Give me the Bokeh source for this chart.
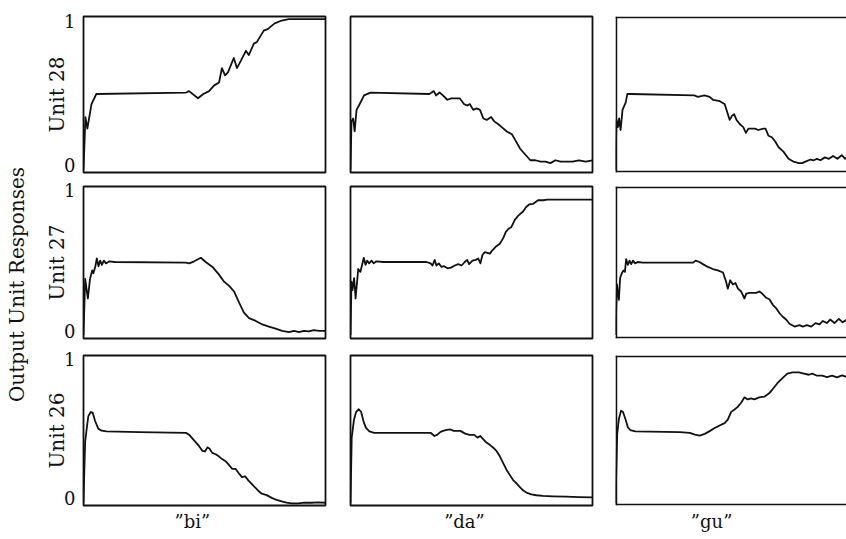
import math
from bokeh.plotting import figure
from bokeh.layouts import row, column
from bokeh.models import FixedTicker, Label, Span, Range1d
from bokeh.embed import file_html
from bokeh.resources import INLINE

# ---------------- data (time in % of syllable, response 0..1) ----------------
words = ["\u201dbi\u201d", "\u201dda\u201d", "\u201dgu\u201d"]
units = ["Unit 28", "Unit 27", "Unit 26"]
y_ticks = [0, 1]
y_label = "Output Unit Responses"

bi_u28 = [(0, -0.04), (0.8, 0.33), (1.6, 0.25), (3.3, 0.42), (5.3, 0.49), (42.4, 0.50), (43.6, 0.51),
          (47.3, 0.46), (49.5, 0.49), (51.9, 0.51), (54.0, 0.55), (56.0, 0.57), (57.2, 0.67), (58.5, 0.62),
          (59.7, 0.64), (62.1, 0.74), (63.4, 0.67), (65.0, 0.72), (67.1, 0.79), (68.3, 0.76), (70.4, 0.84),
          (71.6, 0.85), (74.5, 0.93), (76.1, 0.94), (79.0, 0.98), (81.9, 1.00), (84.8, 1.01), (100, 1.01)]

da_u28 = [(0, -0.04), (0.4, 0.30), (1.1, 0.32), (1.7, 0.23), (2.5, 0.38), (3.5, 0.41), (5.6, 0.48), (8.3, 0.50),
          (32.6, 0.49), (34.4, 0.51), (35.4, 0.48), (36.8, 0.50), (38.2, 0.48), (40.0, 0.45), (41.7, 0.46),
          (43.8, 0.46), (45.1, 0.46), (46.9, 0.42), (48.3, 0.41), (49.3, 0.42), (50.7, 0.38), (52.1, 0.39),
          (53.5, 0.38), (54.9, 0.32), (56.3, 0.31), (58.1, 0.33), (59.4, 0.30), (61.1, 0.28), (62.5, 0.26),
          (64.6, 0.23), (66.7, 0.21), (68.1, 0.17), (70.1, 0.11), (72.2, 0.07), (74.3, 0.03), (76.4, 0.03),
          (78.5, 0.02), (80.6, 0.02), (82.6, 0.01), (84.7, 0.03), (86.8, 0.02), (88.9, 0.02), (91.7, 0.02),
          (94.4, 0.03), (97.2, 0.02), (100, 0.03)]

gu_u28 = [(0, -0.04), (0.4, 0.31), (1.0, 0.26), (1.5, 0.32), (2.1, 0.24), (2.9, 0.38), (4.2, 0.43), (4.9, 0.49),
          (6.3, 0.49), (32.6, 0.48), (34.0, 0.47), (36.8, 0.48), (38.9, 0.47), (40.3, 0.45), (43.1, 0.44),
          (45.1, 0.42), (47.2, 0.31), (48.2, 0.34), (49.0, 0.35), (50.0, 0.31), (51.4, 0.28), (52.8, 0.26),
          (53.9, 0.22), (54.9, 0.25), (57.6, 0.25), (59.0, 0.24), (61.1, 0.25), (62.0, 0.25), (63.2, 0.20),
          (64.6, 0.19), (66.0, 0.16), (67.4, 0.12), (69.4, 0.09), (71.5, 0.04), (73.6, 0.02), (75.7, 0.01),
          (77.1, 0.01), (78.5, 0.02), (80.6, 0.035), (81.9, 0.03), (83.3, 0.04), (84.7, 0.03), (86.5, 0.05),
          (88.2, 0.04), (89.9, 0.06), (91.7, 0.04), (93.5, 0.065), (94.9, 0.04), (96.3, 0.06), (98.2, 0.045),
          (100, 0.065)]

bi_u27 = [(0, -0.03), (0.7, 0.37), (1.8, 0.23), (2.7, 0.37), (3.6, 0.43), (4.1, 0.41), (4.9, 0.46), (5.5, 0.515),
          (6.2, 0.46), (6.9, 0.50), (7.6, 0.47), (8.4, 0.50), (9.3, 0.48), (10.7, 0.495), (12.8, 0.49),
          (42.3, 0.485), (43.7, 0.48), (45.7, 0.495), (48.5, 0.52), (50.5, 0.49), (53.3, 0.455), (56.0, 0.40),
          (58.1, 0.35), (60.2, 0.32), (62.2, 0.28), (64.3, 0.20), (66.3, 0.13), (68.4, 0.09), (71.2, 0.07),
          (73.9, 0.045), (76.6, 0.03), (79.4, 0.015), (82.1, 0.0), (84.9, -0.01), (87.0, 0.0), (89.0, -0.01),
          (91.1, 0.0), (93.1, -0.005), (95.2, 0.005), (97.3, 0.0), (100, 0.0)]

da_u27 = [(0, -0.03), (0.4, 0.35), (0.8, 0.29), (1.5, 0.375), (2.1, 0.23), (3.2, 0.44), (4.1, 0.42), (4.8, 0.47),
          (5.5, 0.52), (6.2, 0.47), (6.9, 0.50), (7.7, 0.48), (8.7, 0.50), (9.6, 0.48), (10.7, 0.495),
          (13.5, 0.49), (31.4, 0.49), (33.1, 0.48), (33.9, 0.465), (34.8, 0.505), (35.5, 0.465), (36.5, 0.48),
          (37.6, 0.455), (38.7, 0.46), (40.1, 0.445), (41.5, 0.45), (43.1, 0.465), (44.5, 0.475), (45.9, 0.465),
          (47.2, 0.49), (48.2, 0.505), (49.0, 0.475), (50.4, 0.50), (51.8, 0.505), (52.8, 0.515), (53.7, 0.48),
          (54.5, 0.54), (55.5, 0.56), (57.6, 0.55), (58.7, 0.575), (60.1, 0.60), (61.7, 0.62), (63.1, 0.66),
          (64.2, 0.705), (65.2, 0.725), (66.5, 0.74), (67.9, 0.79), (69.3, 0.82), (71.3, 0.85), (72.5, 0.88),
          (73.8, 0.90), (75.5, 0.905), (77.5, 0.93), (79.6, 0.93), (81.3, 0.935), (83.1, 0.935), (100, 0.935)]

gu_u27 = [(0, -0.03), (0.6, 0.33), (1.0, 0.27), (1.4, 0.22), (1.9, 0.375), (2.6, 0.41), (3.3, 0.43), (3.9, 0.42),
          (4.4, 0.51), (5.1, 0.47), (5.8, 0.50), (6.5, 0.475), (7.2, 0.50), (8.1, 0.48), (9.2, 0.49),
          (11.3, 0.485), (32.0, 0.485), (33.1, 0.50), (34.7, 0.49), (36.1, 0.475), (38.2, 0.455), (40.2, 0.44),
          (42.3, 0.43), (44.4, 0.415), (45.7, 0.35), (46.4, 0.30), (47.4, 0.36), (48.5, 0.33), (49.6, 0.34),
          (50.6, 0.30), (51.9, 0.28), (53.3, 0.23), (54.0, 0.265), (55.4, 0.27), (58.1, 0.27), (59.5, 0.28),
          (60.6, 0.265), (62.3, 0.235), (63.6, 0.225), (65.0, 0.185), (66.4, 0.16), (67.8, 0.125), (69.1, 0.10),
          (70.5, 0.08), (71.9, 0.05), (74.0, 0.03), (76.0, 0.04), (77.4, 0.03), (79.1, 0.04), (80.9, 0.03),
          (82.6, 0.055), (84.3, 0.045), (85.7, 0.07), (87.3, 0.055), (88.7, 0.08), (90.5, 0.055), (92.3, 0.085),
          (93.9, 0.06), (95.6, 0.08), (97.0, 0.05), (98.8, 0.075), (100, 0.06)]

bi_u26 = [(0, -0.04), (0.3, 0.17), (0.7, 0.41), (1.4, 0.51), (2.0, 0.59), (3.0, 0.62), (3.8, 0.615), (4.8, 0.555),
          (6.1, 0.50), (7.5, 0.485), (9.5, 0.48), (23.2, 0.475), (42.3, 0.47), (43.7, 0.455), (45.7, 0.415),
          (47.7, 0.375), (49.1, 0.34), (50.2, 0.335), (51.2, 0.365), (52.1, 0.355), (53.2, 0.325), (54.6, 0.315),
          (55.9, 0.30), (57.3, 0.28), (58.7, 0.265), (60.0, 0.24), (61.4, 0.21), (62.8, 0.21), (64.1, 0.18),
          (65.5, 0.15), (66.8, 0.155), (68.2, 0.125), (69.6, 0.10), (70.9, 0.075), (72.3, 0.05), (73.7, 0.03),
          (75.7, 0.02), (77.8, 0.0), (79.8, -0.015), (81.9, -0.025), (83.9, -0.035), (85.9, -0.04), (88.7, -0.04),
          (91.4, -0.035), (94.1, -0.035), (96.9, -0.033), (100, -0.035)]

da_u26 = [(0, -0.04), (0.5, 0.435), (1.4, 0.56), (2.3, 0.62), (3.4, 0.64), (4.4, 0.62), (5.5, 0.545), (6.4, 0.505),
          (7.8, 0.48), (9.8, 0.47), (33.1, 0.47), (34.7, 0.447), (35.8, 0.455), (37.2, 0.477), (39.2, 0.489),
          (41.3, 0.494), (42.6, 0.484), (45.4, 0.484), (47.4, 0.464), (49.2, 0.455), (51.1, 0.455), (52.5, 0.435),
          (53.6, 0.447), (54.9, 0.423), (56.3, 0.398), (57.7, 0.381), (59.0, 0.362), (60.4, 0.337), (61.7, 0.30),
          (63.1, 0.251), (64.5, 0.202), (65.8, 0.166), (67.2, 0.129), (68.6, 0.104), (69.9, 0.08), (71.3, 0.055),
          (72.7, 0.038), (74.7, 0.026), (76.8, 0.019), (79.5, 0.014), (83.6, 0.011), (89.1, 0.009), (94.5, 0.006),
          (100, 0.004)]

gu_u26 = [(0, -0.04), (0.7, 0.46), (1.4, 0.57), (2.3, 0.63), (3.1, 0.62), (4.1, 0.57), (5.1, 0.51), (6.1, 0.49),
          (8.2, 0.48), (26.6, 0.475), (30.7, 0.47), (32.8, 0.457), (34.8, 0.45), (36.9, 0.462), (38.9, 0.482),
          (41.0, 0.504), (43.0, 0.523), (45.1, 0.54), (46.4, 0.565), (47.8, 0.621), (49.2, 0.638), (50.5, 0.657),
          (51.9, 0.687), (53.3, 0.726), (54.6, 0.711), (56.0, 0.718), (57.4, 0.711), (59.4, 0.726), (61.5, 0.731),
          (63.5, 0.755), (64.9, 0.784), (66.9, 0.828), (69.0, 0.865), (71.0, 0.897), (73.1, 0.906), (75.8, 0.906),
          (77.9, 0.897), (79.9, 0.889), (81.3, 0.897), (83.3, 0.882), (85.4, 0.882), (87.4, 0.872), (89.5, 0.882),
          (91.5, 0.870), (93.6, 0.884), (95.6, 0.872), (97.4, 0.882), (100, 0.877)]

grid = [[bi_u28, da_u28, gu_u28],
        [bi_u27, da_u27, gu_u27],
        [bi_u26, da_u26, gu_u26]]

# ---------------- layout ----------------
FONT = "DejaVu Serif"
INK = "#111111"
LW = 1.8
Y0, Y1 = -0.055, 1.028
# (border_left, frame_width, border_right, x_end)
col_specs = [(53, 242, 12, 100.0), (13, 242, 12, 100.0), (11, 231, 0, 100.0 * 231 / 242)]
# (border_top, frame_height, border_bottom)
row_specs = [(16, 156, 7), (7, 152, 8), (9, 150, 34)]
word_pos = [45.0, 47.1, 39.7]

rows = []
for r, (bt, fh, bb) in enumerate(row_specs):
    figs = []
    for c, (bl, fw, br, xend) in enumerate(col_specs):
        p = figure(width=bl + fw + br, height=bt + fh + bb,
                   x_range=Range1d(0, xend), y_range=Range1d(Y0, Y1),
                   min_border_left=bl, min_border_right=br,
                   min_border_top=bt, min_border_bottom=bb,
                   x_axis_location="below" if r == 2 else None,
                   y_axis_location="left" if c == 0 else None,
                   toolbar_location=None, output_backend="svg",
                   background_fill_color="white", border_fill_color="white")
        p.grid.visible = False
        if c < 2:
            p.outline_line_color = INK
            p.outline_line_width = LW
        else:
            # open on the right: the panel runs off the page edge
            p.outline_line_color = None
            dx = 0.35
            dy = 0.006
            p.add_layout(Span(location=dx, dimension="height", line_color=INK, line_width=LW))
            p.add_layout(Span(location=Y0 + dy, dimension="width", line_color=INK, line_width=LW))
            p.add_layout(Span(location=Y1 - dy, dimension="width", line_color=INK, line_width=LW))
        if c == 0:
            ax = p.yaxis[0]
            ax.ticker = FixedTicker(ticks=y_ticks)
            ax.axis_line_color = None
            ax.major_tick_line_color = None
            ax.minor_tick_line_color = None
            ax.major_tick_out = 0
            ax.major_tick_in = 0
            ax.major_label_standoff = 8
            ax.major_label_text_font = FONT
            ax.major_label_text_font_size = "18px"
            ax.major_label_text_color = INK
            ax.axis_label = units[r]
            ax.axis_label_text_font = FONT
            ax.axis_label_text_font_style = "normal"
            ax.axis_label_text_font_size = "20px"
            ax.axis_label_text_color = INK
            ax.axis_label_standoff = -8
        if r == 2:
            xa = p.xaxis[0]
            xa.ticker = FixedTicker(ticks=[word_pos[c]])
            xa.major_label_overrides = {word_pos[c]: words[c]}
            xa.axis_line_color = None
            xa.major_tick_line_color = None
            xa.minor_tick_line_color = None
            xa.major_tick_out = 0
            xa.major_tick_in = 0
            xa.major_label_standoff = 5
            xa.major_label_text_font = FONT
            xa.major_label_text_font_size = "18px"
            xa.major_label_text_color = INK
        xs = [pt[0] for pt in grid[r][c]]
        ys = [pt[1] for pt in grid[r][c]]
        p.line(xs, ys, line_color=INK, line_width=LW, line_join="round")
        figs.append(p)
    rows.append(row(*figs, spacing=0))

lab = figure(width=30, height=539, x_range=Range1d(0, 30), y_range=Range1d(0, 539),
             min_border_left=0, min_border_right=0, min_border_top=0, min_border_bottom=0,
             x_axis_location=None, y_axis_location=None, toolbar_location=None,
             output_backend="svg", border_fill_color="white", background_fill_color="white")
lab.outline_line_color = None
lab.grid.visible = False
lab.add_layout(Label(x=16, y=539 - 284, text=y_label, angle=math.pi / 2, text_align="center",
                     text_baseline="middle", text_font=FONT, text_font_size="20px", text_color=INK))

page = row(lab, column(*rows, spacing=0), spacing=0)
open("out.html", "w").write(file_html(page, INLINE))
